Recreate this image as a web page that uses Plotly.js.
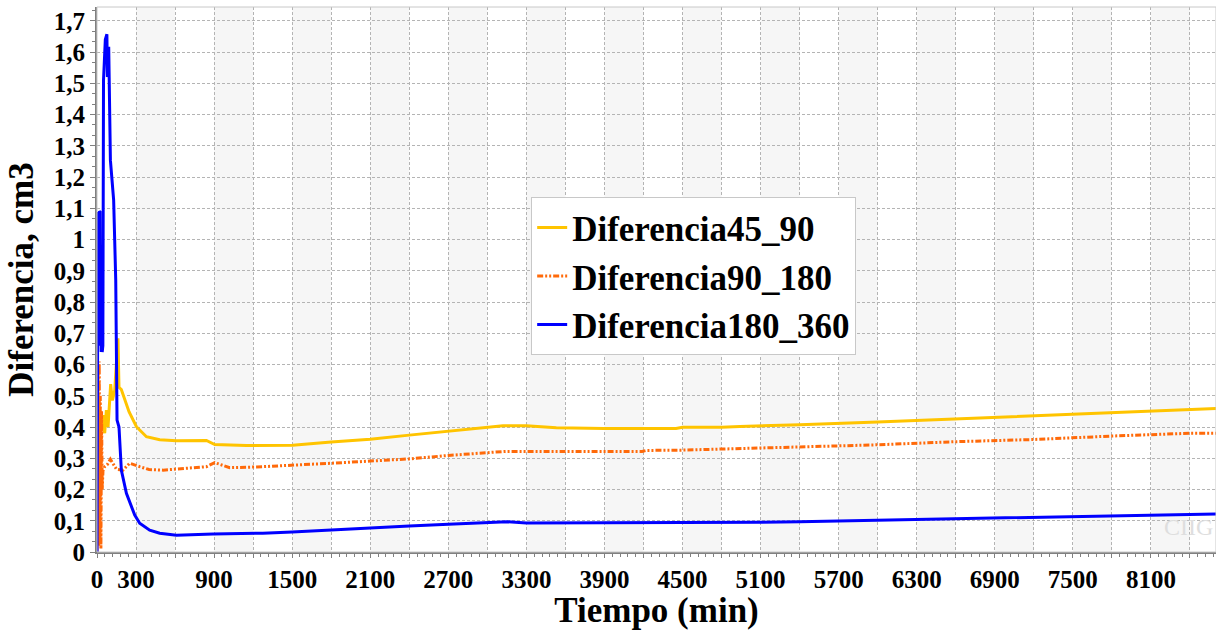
<!DOCTYPE html>
<html>
<head>
<meta charset="utf-8">
<script src="https://cdn.plot.ly/plotly-3.0.1.min.js"></script>
<style>html,body{margin:0;padding:0;background:#fff;}#chart{width:1216px;height:630px;}</style>
</head>
<body>
<div id="chart"></div>
<script>
// ---- data (minutes, cm3) ----
const seriesNames = ["Diferencia45_90", "Diferencia90_180", "Diferencia180_360"];

const t45_90 = [0, 4, 8, 12, 18, 25, 34, 46, 59, 72, 85, 105, 118, 136, 161, 169, 187, 246, 303, 380, 482, 610, 841, 905, 1148, 1504, 1800, 2100, 2400, 2700, 2910, 3120, 3300, 3530, 3900, 4450, 4500, 4800, 4940, 5400, 6000, 6600, 7200, 7800, 8400, 8600];
const v45_90 = [0.02, 0.15, 0.38, 0.45, 0.39, 0.42, 0.389, 0.438, 0.38, 0.454, 0.40, 0.537, 0.485, 0.517, 0.684, 0.527, 0.52, 0.449, 0.401, 0.369, 0.359, 0.356, 0.357, 0.344, 0.341, 0.342, 0.352, 0.361, 0.374, 0.387, 0.395, 0.404, 0.404, 0.398, 0.395, 0.395, 0.399, 0.399, 0.402, 0.407, 0.416, 0.426, 0.437, 0.448, 0.457, 0.459];

const t90_180 = [0, 3, 6, 9, 13, 17, 21, 25, 30, 35, 40, 46, 59, 80, 103, 125, 149, 200, 251, 328, 400, 508, 687, 841, 905, 1020, 1225, 1504, 1800, 2100, 2400, 2700, 3000, 3140, 4190, 4220, 4500, 4940, 5400, 6000, 6600, 7200, 7800, 8400, 8600];
const v90_180 = [0.0, 0.35, 0.05, 0.6, 0.02, 0.61, 0.03, 0.5, 0.01, 0.45, 0.2, 0.26, 0.273, 0.28, 0.297, 0.28, 0.265, 0.262, 0.284, 0.273, 0.264, 0.262, 0.268, 0.273, 0.286, 0.27, 0.272, 0.277, 0.284, 0.291, 0.298, 0.309, 0.318, 0.322, 0.322, 0.325, 0.326, 0.331, 0.335, 0.343, 0.353, 0.36, 0.371, 0.38, 0.38];

const t180_360 = [0, 2, 5, 8, 14, 18, 23, 26, 28, 32, 36, 40, 45, 50, 64, 76, 80, 86, 90, 103, 128, 144, 154, 169, 180, 187, 226, 290, 328, 405, 482, 610, 892, 1274, 1500, 1800, 2100, 2400, 2700, 3000, 3150, 3300, 4550, 4680, 5100, 5400, 6000, 6600, 7200, 7800, 8400, 8600];
const v180_360 = [0, 0.62, 0.9, 1.088, 0.7, 1.09, 1.088, 0.66, 0.98, 0.64, 0.95, 0.64, 0.66, 1.51, 1.64, 1.657, 1.52, 1.53, 1.617, 1.254, 1.126, 0.87, 0.422, 0.40, 0.294, 0.262, 0.188, 0.118, 0.092, 0.07, 0.06, 0.054, 0.058, 0.06, 0.064, 0.071, 0.077, 0.083, 0.089, 0.094, 0.097, 0.093, 0.093, 0.095, 0.095, 0.097, 0.102, 0.107, 0.111, 0.116, 0.121, 0.122];

const xTickLabels = ["0", "300", "900", "1500", "2100", "2700", "3300", "3900", "4500", "5100", "5700", "6300", "6900", "7500", "8100"];
const yTickLabels = ["0", "0,1", "0,2", "0,3", "0,4", "0,5", "0,6", "0,7", "0,8", "0,9", "1", "1,1", "1,2", "1,3", "1,4", "1,5", "1,6", "1,7"];

// ---- build ticks / bands ----
const X_MAX = 8600, Y_MAX = 1.744, X_STEP = 300;
const xTickVals = [], xTickText = [];
for (let v = 0; v <= X_MAX; v += X_STEP) {
  xTickVals.push(v);
  xTickText.push(xTickLabels.includes(String(v)) ? String(v) : "");
}
const yTickVals = yTickLabels.map(s => parseFloat(s.replace(",", ".")));

const shapes = [];
for (let v = X_STEP; v < X_MAX; v += 2 * X_STEP) {
  shapes.push({type: "rect", xref: "x", yref: "paper", x0: v, x1: Math.min(v + X_STEP, X_MAX), y0: 0, y1: 1,
               fillcolor: "#f6f6f6", line: {width: 0}, layer: "below"});
}
shapes.push({type: "rect", xref: "paper", yref: "paper", x0: 0, x1: 1, y0: 0, y1: 1,
             line: {color: "#c8c8c8", width: 1}, fillcolor: "rgba(0,0,0,0)", layer: "above"});

const serif = "Liberation Serif, Times New Roman, serif";

const traces = [
  {x: t45_90, y: v45_90, name: seriesNames[0], mode: "lines", line: {color: "#FFC400", width: 3}},
  {x: t90_180, y: v90_180, name: seriesNames[1], mode: "lines", line: {color: "#FF6A0A", width: 3, dash: "6px,2px,2px,2px,2px,2px"}},
  {x: t180_360, y: v180_360, name: seriesNames[2], mode: "lines", line: {color: "#0000FF", width: 3}}
];

const layout = {
  width: 1216, height: 630,
  margin: {l: 97, r: 0, t: 7, b: 78},
  paper_bgcolor: "#ffffff", plot_bgcolor: "#ffffff",
  font: {family: serif, color: "#000"},
  showlegend: true,
  legend: {x: 0.388, y: 0.651, xanchor: "left", yanchor: "top", bgcolor: "#ffffff",
           bordercolor: "#c8c8c8", borderwidth: 1, itemwidth: 30,
           font: {family: serif, size: 35, weight: 700, color: "#000"}, tracegroupgap: 0},
  xaxis: {
    range: [0, X_MAX], tickmode: "array", tickvals: xTickVals, ticktext: xTickText,
    showgrid: true, gridcolor: "#b4b4b4", griddash: "3px,2px", gridwidth: 1,
    showline: true, linecolor: "#808080", linewidth: 2, zeroline: false,
    ticks: "outside", ticklen: 4, tickcolor: "#808080",
    minor: {dtick: 60, tick0: 0, ticks: "outside", ticklen: 3, tickcolor: "#808080", showgrid: false},
    tickfont: {family: serif, size: 25, weight: 700, color: "#000"},
    title: {text: "Tiempo (min)", font: {family: serif, size: 35, weight: 700, color: "#000"}, standoff: 1}
  },
  yaxis: {
    range: [0, Y_MAX], tickmode: "array", tickvals: yTickVals, ticktext: yTickLabels,
    showgrid: true, gridcolor: "#b4b4b4", griddash: "3px,2px", gridwidth: 1,
    showline: true, linecolor: "#808080", linewidth: 2, zeroline: false,
    ticks: "outside", ticklen: 5, tickcolor: "#808080",
    minor: {dtick: 0.1 / 3, tick0: 0, ticks: "outside", ticklen: 3, tickcolor: "#808080", showgrid: false},
    tickfont: {family: serif, size: 25, weight: 700, color: "#000"},
    title: {text: "Diferencia, cm3", font: {family: serif, size: 35, weight: 700, color: "#000"}, standoff: 10}
  },
  shapes: shapes,
  annotations: [{xref: "paper", yref: "paper", x: 0.975, y: 0.045, xanchor: "center", yanchor: "middle",
                 text: "CIIG", showarrow: false, font: {family: serif, size: 24, color: "#dedede"}}]
};

Plotly.newPlot("chart", traces, layout, {displayModeBar: false, staticPlot: true});
</script>
</body>
</html>
